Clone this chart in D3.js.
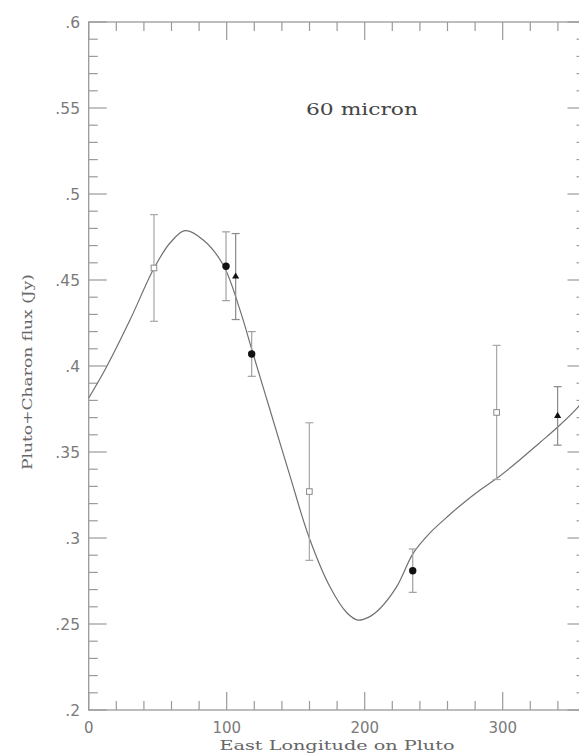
<!DOCTYPE html>
<html><head><meta charset="utf-8">
<script src="https://cdn.jsdelivr.net/npm/d3@7"></script>
<style>html,body{margin:0;padding:0;background:#fff;overflow:hidden}</style>
</head><body>
<svg id="chart" width="579" height="753"></svg>
<script>
// ---- data ----
const xTicksMajor = [0, 100, 200, 300];
const xTickLabels = ["0", "100", "200", "300"];
const yTicksMajor = [0.2, 0.25, 0.3, 0.35, 0.4, 0.45, 0.5, 0.55, 0.6];
const yTickLabels = [".2", ".25", ".3", ".35", ".4", ".45", ".5", ".55", ".6"];

const squareLon = [47.3, 159.9, 295.6];
const squareVal = [0.457, 0.327, 0.373];
const squareErr = [0.031, 0.040, 0.039];

const circleLon = [99.5, 118.1, 234.8];
const circleVal = [0.458, 0.407, 0.281];
const circleErr = [0.020, 0.013, 0.0126];

const triLon = [106.5, 339.8];
const triVal = [0.452, 0.371];
const triErr = [0.025, 0.017];

const curveLon = [0, 13, 29.9, 47.3, 58.9, 69.8, 83, 97.5, 109.6, 118.3, 131.4, 145.9, 159.6, 174.9, 187.2, 195.1, 203, 211.1, 223.2, 235.2, 247.3, 259.4, 269.1, 283.6, 295.7, 312.5, 327, 339.9, 353.6, 360];
const curveVal = [0.3814, 0.3996, 0.4267, 0.4568, 0.4715, 0.4787, 0.4733, 0.4587, 0.4326, 0.4093, 0.3744, 0.3360, 0.3006, 0.2715, 0.2564, 0.2523, 0.2540, 0.2590, 0.2717, 0.2912, 0.3030, 0.3120, 0.3188, 0.3279, 0.3347, 0.3455, 0.3555, 0.3645, 0.3752, 0.3814];

const labelText = "60 micron";
const xTitle = "East Longitude on Pluto";
const yTitle = "Pluto+Charon flux (Jy)";

// ---- layout ----
const L = 88.7, R = 585.5, T = 22, B = 710;
const svg = d3.select("#chart");
const x = d3.scaleLinear().domain([0, 360]).range([L, R]);
const y = d3.scaleLinear().domain([0.2, 0.6]).range([B, T]);
const axisColor = "#9a9a9a";

const g = svg.append("g");
// frame
g.append("rect").attr("x", L).attr("y", T).attr("width", R - L).attr("height", B - T)
  .attr("fill", "none").attr("stroke", axisColor).attr("stroke-width", 1.3);

const xMinor = d3.range(0, 361, 20);
const yMinor = d3.range(0, 41).map(i => 0.2 + i * 0.01);
const isMajorX = v => Math.abs(v % 100) < 1e-6;
const isMajorY = v => Math.abs(Math.round(v * 100) % 5) === 0;

// bottom & top ticks
xMinor.forEach(v => {
  const len = isMajorX(v) ? 18 : 9;
  g.append("line").attr("x1", x(v)).attr("x2", x(v)).attr("y1", B).attr("y2", B - len)
    .attr("stroke", axisColor).attr("stroke-width", 1.2);
  g.append("line").attr("x1", x(v)).attr("x2", x(v)).attr("y1", T).attr("y2", T + len)
    .attr("stroke", axisColor).attr("stroke-width", 1.2);
});
// left & right ticks
yMinor.forEach(v => {
  const len = isMajorY(v) ? 18 : 9;
  g.append("line").attr("x1", L).attr("x2", L + len).attr("y1", y(v)).attr("y2", y(v))
    .attr("stroke", axisColor).attr("stroke-width", 1.2);
  g.append("line").attr("x1", R).attr("x2", R - len).attr("y1", y(v)).attr("y2", y(v))
    .attr("stroke", axisColor).attr("stroke-width", 1.2);
});

// tick labels
xTicksMajor.forEach((v, i) => {
  g.append("text").attr("x", x(v)).attr("y", 733).attr("text-anchor", "middle")
    .attr("font-family", "DejaVu Sans").attr("font-size", 15).attr("fill", "#7a7a7a")
    .text(xTickLabels[i]);
});
yTicksMajor.forEach((v, i) => {
  g.append("text").attr("x", 80).attr("y", y(v) + 6).attr("text-anchor", "end")
    .attr("font-family", "DejaVu Sans").attr("font-size", 15.5).attr("fill", "#7a7a7a")
    .text(yTickLabels[i]);
});

// titles
g.append("text").attr("x", 337).attr("y", 749.5).attr("text-anchor", "middle")
  .attr("font-family", "DejaVu Serif").attr("font-size", 13.5).attr("fill", "#666")
  .attr("textLength", 235).attr("lengthAdjust", "spacingAndGlyphs").text(xTitle);
g.append("text").attr("transform", "translate(32,372) rotate(-90)").attr("text-anchor", "middle")
  .attr("font-family", "DejaVu Serif").attr("font-size", 13.5).attr("fill", "#666")
  .attr("textLength", 196).attr("lengthAdjust", "spacingAndGlyphs").text(yTitle);
g.append("text").attr("x", 362).attr("y", 115).attr("text-anchor", "middle")
  .attr("font-family", "DejaVu Serif").attr("font-size", 16).attr("fill", "#444")
  .attr("textLength", 112).attr("lengthAdjust", "spacingAndGlyphs").text(labelText);

// curve
const line = d3.line().x(d => x(d[0])).y(d => y(d[1])).curve(d3.curveCatmullRom.alpha(0.5));
g.append("path").datum(curveLon.map((v, i) => [v, curveVal[i]]))
  .attr("d", line).attr("fill", "none").attr("stroke", "#707070").attr("stroke-width", 1.2);

// error bars
function errBars(lon, val, err, color) {
  lon.forEach((v, i) => {
    const cx = x(v), y1 = y(val[i] + err[i]), y2 = y(val[i] - err[i]);
    g.append("line").attr("x1", cx).attr("x2", cx).attr("y1", y1).attr("y2", y2)
      .attr("stroke", color).attr("stroke-width", 1.2);
    [y1, y2].forEach(yy => g.append("line").attr("x1", cx - 4).attr("x2", cx + 4)
      .attr("y1", yy).attr("y2", yy).attr("stroke", color).attr("stroke-width", 1.2));
  });
}
errBars(squareLon, squareVal, squareErr, "#a8a8a8");
errBars(circleLon, circleVal, circleErr, "#a0a0a0");
errBars(triLon, triVal, triErr, "#8a8a8a");

// markers
squareLon.forEach((v, i) => {
  g.append("rect").attr("x", x(v) - 2.8).attr("y", y(squareVal[i]) - 2.8)
    .attr("width", 5.6).attr("height", 5.6).attr("fill", "#fff")
    .attr("stroke", "#8a8a8a").attr("stroke-width", 1);
});
circleLon.forEach((v, i) => {
  g.append("circle").attr("cx", x(v)).attr("cy", y(circleVal[i])).attr("r", 3.7).attr("fill", "#111");
});
const tri = d3.symbol().type(d3.symbolTriangle).size(22);
triLon.forEach((v, i) => {
  g.append("path").attr("d", tri()).attr("transform", `translate(${x(v)},${y(triVal[i])})`).attr("fill", "#111");
});
</script>
</body></html>
